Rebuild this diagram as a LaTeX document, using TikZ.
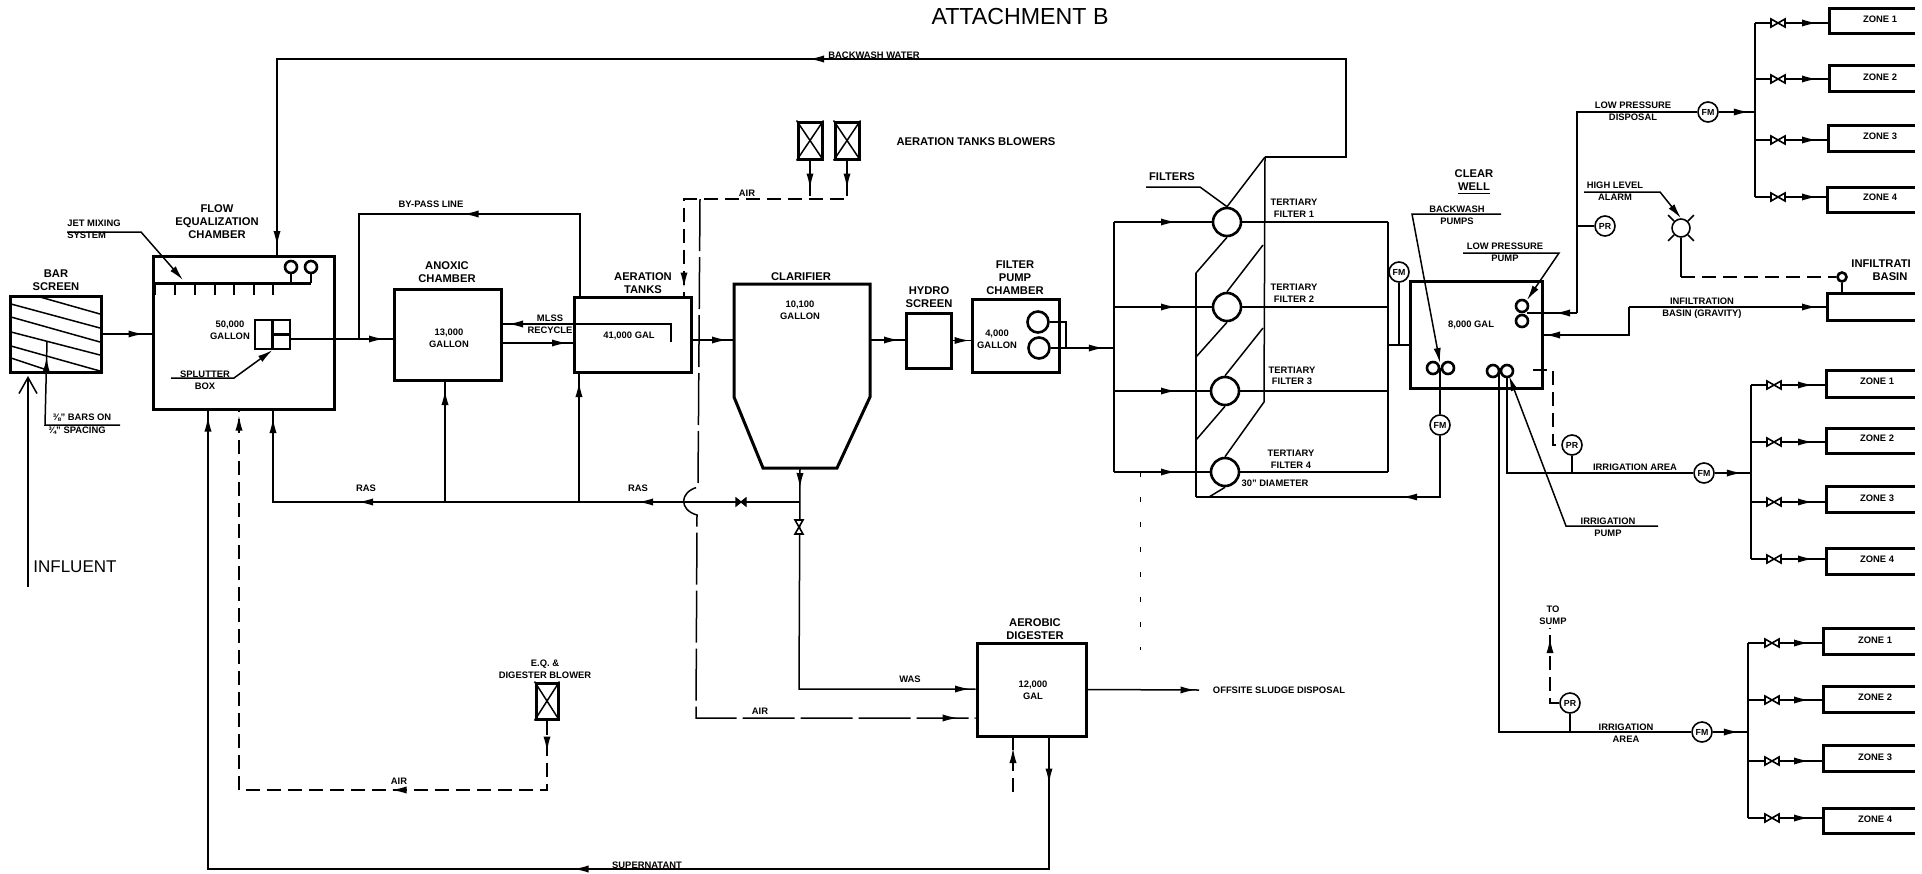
\documentclass[tikz,border=0pt]{standalone}
\usepackage{fontspec}
\setmainfont{Liberation Sans}
\usetikzlibrary{arrows.meta,fit,decorations.markings}

\tikzset{
  hd/.tip={Latex[length=7.5pt,width=3.6pt]},
  pipe/.style={line width=0.75pt},
  wall/.style={line width=1.5pt},
  stub/.style={line width=1.1pt},
  airline/.style={line width=0.75pt,dash pattern=on 7pt off 3.5pt},
  airlong/.style={line width=0.75pt,dash pattern=on 26pt off 3pt},
  lead/.style={line width=0.75pt,-hd},
  tank/.style={draw,rectangle,line width=1.5pt,inner sep=0pt},
  lblbig/.style={font=\fontsize{5.6}{6.5}\selectfont\bfseries,align=center,inner sep=0pt},
  lblsm/.style={font=\fontsize{4.7}{5.8}\selectfont\bfseries,align=center,inner sep=0pt},
  inst/.style={circle,draw,fill=white,line width=0.8pt,minimum size=10pt,inner sep=0pt,font=\fontsize{4.4}{5}\selectfont\bfseries},
  pumpc/.style={circle,draw,fill=white,line width=1.3pt,minimum size=6pt,inner sep=0pt},
  filt/.style={circle,draw,fill=white,line width=1.3pt,minimum size=14pt,inner sep=0pt},
  tipat/.style={postaction={decorate,decoration={markings,mark=at position #1*0.5pt with {\arrow{hd}}}}},
  valve/.pic={\draw[fill=white,line width=0.8pt] (-7,-4) -- (7,4) -- (7,-4) -- (-7,4) -- cycle;},
  valveb/.pic={\draw[fill=black,line width=0.6pt] (-5,-4) -- (5,4) -- (5,-4) -- (-5,4) -- cycle;}
}

\begin{document}
\begin{tikzpicture}[x=0.5pt,y=-0.5pt]
\useasboundingbox (0,0) rectangle (1922,873);

\node[font=\fontsize{11.6}{13}\selectfont,inner sep=0pt] (title) at (1020,17) {ATTACHMENT B};

% bar screen
\node[tank,fit={(10,296) (101,372)}] (bar) {};
\node[lblbig] (barlbl) at (56,280) {BAR\\SCREEN};
\draw[pipe] (40,297) -- (100,314);
\draw[pipe] (11,304) -- (100,328);
\draw[pipe] (11,317) -- (100,342);
\draw[pipe] (11,332) -- (100,355);
\draw[pipe] (11,346) -- (100,371);
\draw[pipe] (11,358) -- (44,369);
\coordinate (barsA) at (120,425);
\coordinate (barsB) at (45,425);
\coordinate (barsC) at (47,342);
\draw[pipe,tipat=143] (barsA) -- (barsB) -- (barsC);
\node[lblsm] (barslbl) at (82,418) {⅜" BARS ON};
\node[lblsm] (spacelbl) at (77,431) {¾" SPACING};

% influent
\coordinate (inflA) at (28,587);
\coordinate (inflB) at (28,376);
\draw[pipe,-{Straight Barb[length=8pt,width=9pt]}] (inflA) -- (inflB);
\node[font=\fontsize{8.5}{10}\selectfont,inner sep=0pt,anchor=west] (infllbl) at (33,567) {INFLUENT};

% flow equalization chamber
\node[tank,fit={(153,256) (334,409)}] (eq) {};
\node[lblbig] (eqlbl) at (217,222) {FLOW\\EQUALIZATION\\CHAMBER};
\node[pumpc] (jetA) at (291,267) {};
\node[pumpc] (jetB) at (311,267) {};
\coordinate (jetL) at (154,283);
\coordinate (jetR) at (311,283);
\draw[wall] (jetL) -- (jetR);
\draw[stub] (jetA.south) -- (jetA.south |- jetL);
\draw[stub] (jetB.south) -- (jetB.south |- jetL);
\draw[stub] (155,283) -- (155,295);
\draw[stub] (175,283) -- (175,295);
\draw[stub] (195,283) -- (195,295);
\draw[stub] (215,283) -- (215,295);
\draw[stub] (234,283) -- (234,295);
\draw[stub] (254,283) -- (254,295);
\draw[stub] (273,283) -- (273,295);
\node[lblsm,anchor=west,align=left] (jetlbl) at (67,229) {JET MIXING\\SYSTEM};
\coordinate (jetT) at (67,232);
\coordinate (jetU) at (141,232);
\coordinate (jetV) at (183,280);
\draw[lead] (jetT) -- (jetU) -- (jetV);
\draw[pipe,tipat=41] (bar.east) -- (eq.west |- bar.east);
\node[lblsm] (eqgal) at (230,330) {50,000\\GALLON};

% splutter box
\node[tank,line width=1.1pt,fit={(255,320) (290,349)}] (splut) {};
\draw[stub] (splut.north) -- (splut.south);
\draw[stub] (splut.center) -- (splut.east);
\node[lblsm] (splutlbl) at (205,380) {SPLUTTER\\BOX};
\coordinate (splutA) at (171,378);
\coordinate (splutB) at (234,378);
\draw[lead] (splutA) -- (splutB) -- (splut.south);

% anoxic chamber
\node[tank,fit={(394,289) (501,380)}] (anox) {};
\node[lblbig] (anoxlbl) at (447,272) {ANOXIC\\CHAMBER};
\node[lblsm] (anoxgal) at (449,338) {13,000\\GALLON};
\coordinate (mainA) at (290,339);
\draw[pipe,tipat=94] (mainA) -- (mainA -| anox.west);

% aeration tanks
\node[tank,fit={(574,297) (691,372)}] (aer) {};
\node[lblbig] (aerlbl) at (643,283) {AERATION\\TANKS};
\node[lblsm] (aergal) at (629,336) {41,000 GAL};
\coordinate (bypA) at (580,214);
\coordinate (bypB) at (359,214);
\draw[pipe,tipat=198] (bypA |- aer.north) -- (bypA) -- (bypB) -- (bypB |- mainA);
\node[lblsm] (byplbl) at (431,204) {BY-PASS LINE};
\coordinate (mlssA) at (671,342);
\coordinate (mlssB) at (671,324);
\draw[pipe,tipat=181] (mlssA) -- (mlssB) -- (mlssB -| anox.east);
\coordinate (anoxOut) at (501,343);
\draw[pipe,tipat=66] (anoxOut) -- (anoxOut -| aer.west);
\node[lblsm] (mlsslbl) at (550,324) {MLSS\\RECYCLE};

% clarifier
\draw[wall] (734,284) -- (870,284) -- (870,397) -- (837,468) -- (763,468) -- (734,397) -- cycle;
\node[lblbig] (clarlbl) at (801,277) {CLARIFIER};
\node[lblsm] (clargal) at (800,310) {10,100\\GALLON};
\coordinate (aerOut) at (691,340);
\coordinate (clarW) at (734,340);
\coordinate (clarE) at (870,340);
\coordinate (clarS) at (800,468);
\draw[pipe,tipat=36] (aerOut) -- (clarW);

% hydro screen, filter pump chamber
\node[tank,fit={(906,313) (951,368)}] (hydro) {};
\node[lblbig] (hydrolbl) at (929,297) {HYDRO\\SCREEN};
\draw[pipe,tipat=29] (clarE) -- (clarE -| hydro.west);
\node[tank,fit={(972,299) (1059,372)}] (fpump) {};
\node[lblbig] (fpumplbl) at (1015,278) {FILTER\\PUMP\\CHAMBER};
\draw[pipe,tipat=17] (hydro.east) -- (hydro.east -| fpump.west);
\node[lblsm] (fpumpgal) at (997,339) {4,000\\GALLON};
\node[pumpc,minimum size=10.5pt] (fpA) at (1038,322) {};
\node[pumpc,minimum size=10.5pt] (fpB) at (1039,348) {};
\coordinate (fpJoin) at (1066,348);
\coordinate (manM) at (1114,348);
\draw[pipe] (fpA.east) -| (fpJoin);
\draw[pipe,tipat=53] (fpB.east) -- (manM);

% tertiary filters
\node[filt] (fltA) at (1227,222) {};
\node[filt] (fltB) at (1227,307) {};
\node[filt] (fltC) at (1225,391) {};
\node[filt] (fltD) at (1225,472) {};
\coordinate (manT) at (1114,222);
\coordinate (manB) at (1114,472);
\draw[pipe] (manT) -- (manB);
\draw[pipe,tipat=62] (manT) -- (fltA.west);
\draw[pipe,tipat=62] (manT |- fltB) -- (fltB.west);
\draw[pipe,tipat=62] (manT |- fltC) -- (fltC.west);
\draw[pipe,tipat=62] (manB) -- (fltD.west);
\coordinate (colT) at (1388,222);
\coordinate (colB) at (1388,472);
\coordinate (colW) at (1388,345);
\draw[pipe] (colT) -- (colB);
\draw[pipe] (fltA.east) -- (colT);
\draw[pipe] (fltB.east) -- (fltB.east -| colT);
\draw[pipe] (fltC.east) -- (fltC.east -| colT);
\draw[pipe] (fltD.east) -- (colB);
\node[lblsm] (t1lbl) at (1294,208) {TERTIARY\\FILTER 1};
\node[lblsm] (t2lbl) at (1294,293) {TERTIARY\\FILTER 2};
\node[lblsm] (t3lbl) at (1292,376) {TERTIARY\\FILTER 3};
\node[lblsm] (t4lbl) at (1291,459) {TERTIARY\\FILTER 4};
\node[lblsm] (diamlbl) at (1275,483) {30" DIAMETER};
\node[lblbig] (filtlbl) at (1172,177) {FILTERS};
\coordinate (filtA) at (1146,187);
\coordinate (filtB) at (1200,187);
\draw[pipe] (filtA) -- (filtB) -- (fltA.north);

% filter frame
\coordinate (frameT) at (1265,157);
\coordinate (frameB) at (1196,497);
\draw[pipe] (frameT) -- (fltA.north);
\draw[pipe] (fltA.south) -- (1196,273);
\draw[pipe] (1196,273) -- (frameB);
\draw[pipe] (frameT) -- (1264,402) -- (fltD.north);
\draw[pipe] (1263,245) -- (fltB.north);
\draw[pipe] (fltB.south) -- (1196,357);
\draw[pipe] (1263,328) -- (fltC.north);
\draw[pipe] (fltC.south) -- (1196,440);
\draw[pipe] (fltD.south) -- (1209,497);

% backwash water
\coordinate (bwA) at (1346,157);
\coordinate (bwB) at (1346,59);
\coordinate (bwC) at (277,59);
\draw[pipe,tipat=716,tipat=1435] (frameT) -- (bwA) -- (bwB) -- (bwC) -- (bwC |- eq.north);
\node[lblsm] (bwlbl) at (874,55) {BACKWASH WATER};

% aeration blowers
\node[tank,fit={(798,122) (822,159)}] (blwA) {};
\node[tank,fit={(835,122) (859,159)}] (blwB) {};
\draw[pipe] (blwA.north west) -- (blwA.south east);
\draw[pipe] (blwA.north east) -- (blwA.south west);
\draw[pipe] (blwB.north west) -- (blwB.south east);
\draw[pipe] (blwB.north east) -- (blwB.south west);
\node[lblbig] (blwlbl) at (976,142) {AERATION TANKS BLOWERS};
\coordinate (airE) at (847,199);
\coordinate (airW) at (684,199);
\draw[airline,tipat=28,tipat=290] (blwB.south) -- (airE) -- (airW) -- (airW |- aer.north);
\draw[airline,tipat=28] (blwA.south) -- (blwA.south |- airE);
\node[lblsm] (airlblA) at (747,193) {AIR};

% air to digester, hops over RAS
\node[tank,fit={(977,643) (1086,736)}] (dig) {};
\node[lblbig] (diglbl) at (1035,629) {AEROBIC\\DIGESTER};
\node[lblsm] (diggal) at (1033,690) {12,000\\GAL};
\coordinate (airB) at (700,199);
\coordinate (airC) at (698,487);
\coordinate (airD) at (697,515);
\coordinate (airF) at (696,718);
\draw[airlong,tipat=795] (airB) -- (airC) .. controls (679,492) and (679,510) .. (airD) -- (airF) -- (airF -| dig.west);
\node[lblsm] (airlblB) at (760,711) {AIR};

% RAS
\coordinate (rasE) at (799,502);
\coordinate (rasW) at (273,502);
\draw[pipe,tipat=161,tipat=441,tipat=610] (rasE) -- (rasW) -- (rasW |- eq.south);
\coordinate (rasAn) at (445,502);
\coordinate (rasAe) at (579,502);
\draw[pipe,tipat=112] (rasAn) -- (rasAn |- anox.south);
\draw[pipe,tipat=120] (rasAe) -- (rasAe |- aer.south);
\pic at (741,502) {valveb};
\node[lblsm] (raslblA) at (366,488) {RAS};
\node[lblsm] (raslblB) at (638,488) {RAS};

% WAS
\coordinate (wasB) at (799,689);
\draw[pipe,tipat=20,tipat=392] (clarS) -- (wasB) -- (wasB -| dig.west);
\pic[rotate=90] at (799,527) {valve};
\node[lblsm] (waslbl) at (910,679) {WAS};

% digester out
\coordinate (sludge) at (1199,690);
\draw[pipe,tipat=108] (dig.east) -- (sludge);
\node[lblsm] (sludgelbl) at (1279,690) {OFFSITE SLUDGE DISPOSAL};
\coordinate (digAir) at (1013,792);
\draw[airline,tipat=44] (digAir) -- (digAir |- dig.south);

% supernatant
\coordinate (supA) at (1049,869);
\coordinate (supB) at (208,869);
\draw[pipe,tipat=46,tipat=607,tipat=1425] (supA |- dig.south) -- (supA) -- (supB) -- (supB |- eq.south);
\node[lblsm] (suplbl) at (647,865) {SUPERNATANT};

% E.Q. blower
\node[tank,fit={(536,683) (558,719)}] (eqb) {};
\draw[pipe] (eqb.north west) -- (eqb.south east);
\draw[pipe] (eqb.north east) -- (eqb.south west);
\node[lblsm] (eqblbl) at (545,669) {E.Q. \&\\DIGESTER BLOWER};
\coordinate (eqbA) at (547,790);
\coordinate (eqbB) at (239,790);
\draw[airline,tipat=31,tipat=225,tipat=752] (eqb.south) -- (eqbA) -- (eqbB) -- (eqbB |- eq.south);
\node[lblsm] (airlblC) at (399,781) {AIR};

% stray dashes under filters
\coordinate (ghostA) at (1140,472);
\coordinate (ghostB) at (1140,650);
\draw[line width=0.4pt,dash pattern=on 2.5pt off 10pt] (ghostA) -- (ghostB);

% clear well
\node[tank,fit={(1410,281) (1542,388)}] (cw) {};
\node[lblbig] (cwlbl) at (1474,182) {CLEAR\\\underline{WELL}};
\node[lblsm] (cwgal) at (1471,325) {8,000 GAL};
\draw[pipe] (colW) -- (colW -| cw.west);
\node[inst] (fmA) at (1399,272) {FM};
\draw[pipe] (fmA.south) -- (fmA.south |- colW);

% backwash pumps
\node[pumpc] (bwpA) at (1433,368) {};
\node[pumpc] (bwpB) at (1448,368) {};
\node[lblsm] (bwplbl) at (1457,215) {BACKWASH\\PUMPS};
\coordinate (bwpC) at (1501,214);
\coordinate (bwpD) at (1412,214);
\coordinate (bwpE) at (1440,363);
\draw[lead] (bwpC) -- (bwpD) -- (bwpE);
\node[inst] (fmB) at (1440,425) {FM};
\coordinate (bwpJ) at (1440,368);
\coordinate (bwR) at (1196,497);
\draw[pipe] (bwpJ) -- (fmB.north);
\draw[pipe,tipat=99] (fmB.south) |- (bwR);

% low pressure pump
\node[pumpc] (lpA) at (1522,306) {};
\node[pumpc] (lpB) at (1522,321) {};
\node[lblsm] (lplbl) at (1505,252) {LOW PRESSURE\\PUMP};
\coordinate (lpT) at (1463,253);
\coordinate (lpU) at (1559,253);
\coordinate (lpV) at (1527,300);
\draw[lead] (lpT) -- (lpU) -- (lpV);
\coordinate (lpJ) at (1527,313);
\coordinate (lpC) at (1577,313);
\draw[pipe,tipat=22] (lpC) -- (lpJ);
\node[inst] (fmC) at (1708,112) {FM};
\draw[pipe] (fmC.west) -| (lpC);
\node[lblsm] (lpdlbl) at (1633,111) {LOW PRESSURE\\DISPOSAL};
\node[inst] (prA) at (1605,226) {PR};
\draw[pipe] (lpC |- prA) -- (prA.west);

% high level alarm
\node[circle,draw,line width=0.8pt,minimum size=9pt,inner sep=0pt] (alm) at (1681,228) {};
\draw[pipe] (alm.45) -- ++(6,-6);
\draw[pipe] (alm.135) -- ++(-6,-6);
\draw[pipe] (alm.-45) -- ++(6,6);
\draw[pipe] (alm.-135) -- ++(-6,6);
\node[lblsm] (almlbl) at (1615,191) {HIGH LEVEL\\ALARM};
\coordinate (almA) at (1584,192);
\coordinate (almB) at (1660,192);
\draw[lead] (almA) -- (almB) -- (alm.north);
\coordinate (almC) at (1681,277);
\draw[pipe] (alm.south) -- (almC);

% infiltration basin
\draw[wall] (1915,293) -| (1827,320) -- (1915,320);
\coordinate (basinW) at (1827,307);
\coordinate (basinN) at (1842,293);
\node[pumpc,minimum size=4.5pt] (lvl) at (1842,277) {};
\draw[stub] (lvl.south) -- (basinN);
\draw[airline] (almC) -- (lvl.west);
\node[lblbig,anchor=west] (basinlbl) at (1851,264) {INFILTRATI};
\node[lblbig] (basinlblB) at (1890,277) {BASIN};
\coordinate (infA) at (1629,307);
\coordinate (infB) at (1629,335);
\draw[pipe,tipat=188] (infA) -- (basinW);
\draw[pipe,tipat=112] (infA) -- (infB) -- (infB -| cw.east);
\node[lblsm] (inflbl) at (1702,308) {INFILTRATION\\BASIN (GRAVITY)};

% irrigation pumps
\node[pumpc] (irA) at (1493,371) {};
\node[pumpc] (irB) at (1507,371) {};
\node[lblsm] (irlbl) at (1608,527) {IRRIGATION\\PUMP};
\coordinate (irT) at (1658,526);
\coordinate (irU) at (1566,526);
\coordinate (irV) at (1509,376);
\draw[lead] (irT) -- (irU) -- (irV);
\coordinate (irlA) at (1499,732);
\node[inst] (fmD) at (1704,473) {FM};
\node[inst] (fmE) at (1702,732) {FM};
\draw[pipe] (irlA |- irA) |- (fmE.west);
\draw[pipe] (irB.south) |- (fmD.west);
\node[lblsm] (irrlblA) at (1635,467) {IRRIGATION AREA};
\node[lblsm] (irrlblB) at (1626,733) {IRRIGATION\\AREA};
\node[inst] (prB) at (1572,445) {PR};
\node[inst] (prC) at (1570,703) {PR};
\draw[pipe] (prB.south) -- (prB.south |- fmD);
\draw[pipe] (prC.south) -- (prC.south |- fmE);
\coordinate (dashA) at (1533,370);
\coordinate (dashB) at (1553,370);
\draw[airline] (dashA) -- (dashB) |- (prB.west);
\coordinate (sump) at (1550,628);
\draw[airline,tipat=74] (prC.west) -| (sump);
\node[lblsm] (sumplbl) at (1553,615) {TO\\SUMP};

% low pressure zones
\coordinate (trunkA) at (1755,112);
\draw[pipe] (trunkA |- 0,23) -- (trunkA |- 0,197);
\draw[pipe,tipat=30] (fmC.east) -- (trunkA);
\coordinate (zA1) at (1829,23);
\draw[wall] (1915,8) -| (1829,33) -- (1915,33);
\draw[pipe,tipat=62] (trunkA |- zA1) -- (zA1);
\pic at (1778,23) {valve};
\node[lblsm] (zoneA1) at (1880,19) {ZONE 1};
\coordinate (zA2) at (1829,79);
\draw[wall] (1915,65) -| (1829,91) -- (1915,91);
\draw[pipe,tipat=62] (trunkA |- zA2) -- (zA2);
\pic at (1778,79) {valve};
\node[lblsm] (zoneA2) at (1880,77) {ZONE 2};
\coordinate (zA3) at (1828,140);
\draw[wall] (1915,125) -| (1828,151) -- (1915,151);
\draw[pipe,tipat=62] (trunkA |- zA3) -- (zA3);
\pic at (1778,140) {valve};
\node[lblsm] (zoneA3) at (1880,136) {ZONE 3};
\coordinate (zA4) at (1827,197);
\draw[wall] (1915,187) -| (1827,212) -- (1915,212);
\draw[pipe,tipat=62] (trunkA |- zA4) -- (zA4);
\pic at (1778,197) {valve};
\node[lblsm] (zoneA4) at (1880,197) {ZONE 4};

% irrigation zones, upper
\coordinate (trunkB) at (1751,473);
\draw[pipe] (trunkB |- 0,385) -- (trunkB |- 0,559);
\draw[pipe,tipat=27] (fmD.east) -- (trunkB);
\coordinate (zB1) at (1826,385);
\draw[wall] (1915,370) -| (1826,397) -- (1915,397);
\draw[pipe,tipat=62] (trunkB |- zB1) -- (zB1);
\pic at (1774,385) {valve};
\node[lblsm] (zoneB1) at (1877,381) {ZONE 1};
\coordinate (zB2) at (1826,442);
\draw[wall] (1915,428) -| (1826,453) -- (1915,453);
\draw[pipe,tipat=62] (trunkB |- zB2) -- (zB2);
\pic at (1774,442) {valve};
\node[lblsm] (zoneB2) at (1877,438) {ZONE 2};
\coordinate (zB3) at (1826,502);
\draw[wall] (1915,486) -| (1826,512) -- (1915,512);
\draw[pipe,tipat=62] (trunkB |- zB3) -- (zB3);
\pic at (1774,502) {valve};
\node[lblsm] (zoneB3) at (1877,498) {ZONE 3};
\coordinate (zB4) at (1826,559);
\draw[wall] (1915,548) -| (1826,574) -- (1915,574);
\draw[pipe,tipat=62] (trunkB |- zB4) -- (zB4);
\pic at (1774,559) {valve};
\node[lblsm] (zoneB4) at (1877,559) {ZONE 4};

% irrigation zones, lower
\coordinate (trunkC) at (1748,732);
\draw[pipe] (trunkC |- 0,643) -- (trunkC |- 0,818);
\draw[pipe,tipat=26] (fmE.east) -- (trunkC);
\coordinate (zC1) at (1823,643);
\draw[wall] (1915,628) -| (1823,654) -- (1915,654);
\draw[pipe,tipat=61] (trunkC |- zC1) -- (zC1);
\pic at (1772,643) {valve};
\node[lblsm] (zoneC1) at (1875,640) {ZONE 1};
\coordinate (zC2) at (1823,700);
\draw[wall] (1915,686) -| (1823,712) -- (1915,712);
\draw[pipe,tipat=61] (trunkC |- zC2) -- (zC2);
\pic at (1772,700) {valve};
\node[lblsm] (zoneC2) at (1875,697) {ZONE 2};
\coordinate (zC3) at (1823,761);
\draw[wall] (1915,745) -| (1823,771) -- (1915,771);
\draw[pipe,tipat=61] (trunkC |- zC3) -- (zC3);
\pic at (1772,761) {valve};
\node[lblsm] (zoneC3) at (1875,757) {ZONE 3};
\coordinate (zC4) at (1823,818);
\draw[wall] (1915,808) -| (1823,833) -- (1915,833);
\draw[pipe,tipat=61] (trunkC |- zC4) -- (zC4);
\pic at (1772,818) {valve};
\node[lblsm] (zoneC4) at (1875,819) {ZONE 4};

\end{tikzpicture}
\end{document}
